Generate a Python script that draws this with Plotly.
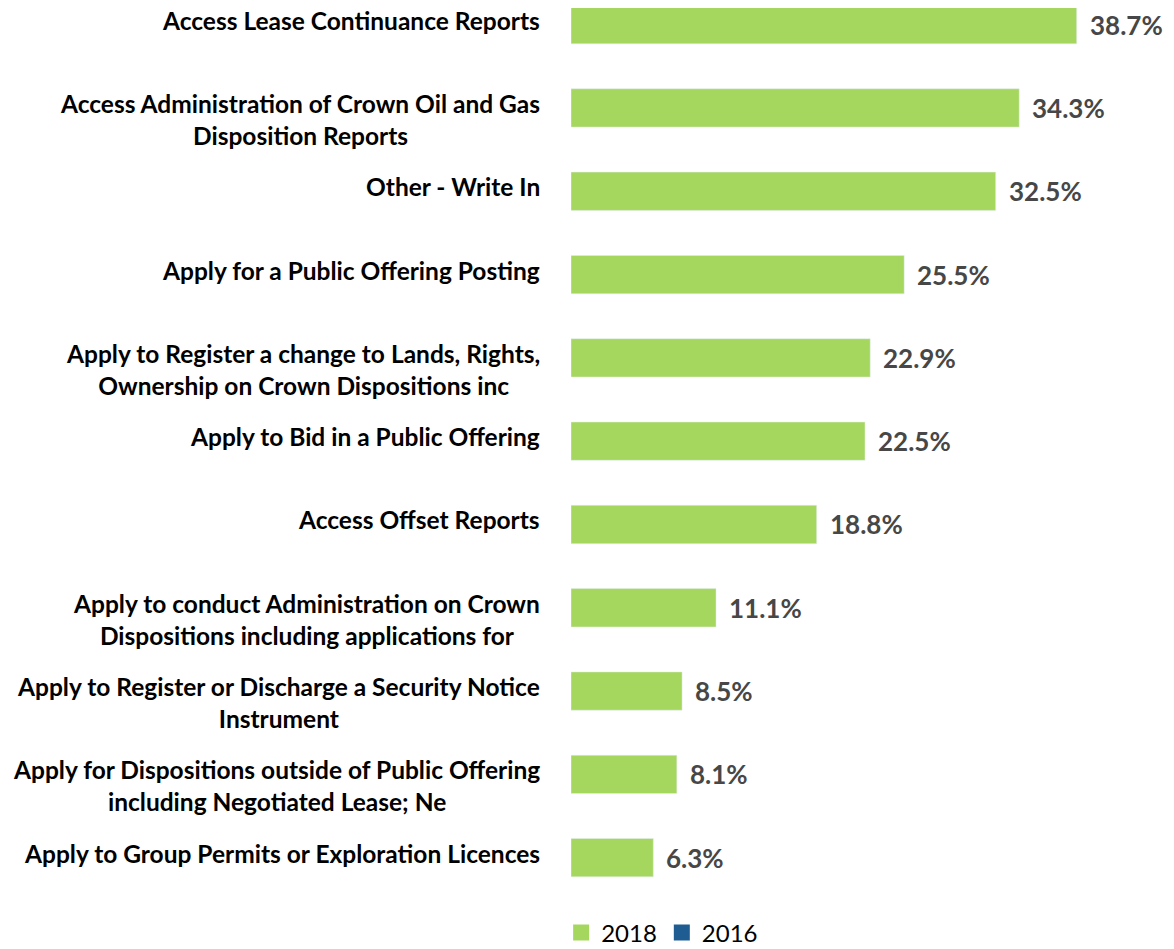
import plotly.graph_objects as go

categories = [
    "Access Lease Continuance Reports",
    "Access Administration of Crown Oil and Gas<br>Disposition Reports",
    "Other - Write In",
    "Apply for a Public Offering Posting",
    "Apply to Register a change to Lands, Rights,<br>Ownership on Crown Dispositions inc",
    "Apply to Bid in a Public Offering",
    "Access Offset Reports",
    "Apply to conduct Administration on Crown<br>Dispositions including applications for",
    "Apply to Register or Discharge a Security Notice<br>Instrument",
    "Apply for Dispositions outside of Public Offering<br>including Negotiated Lease; Ne",
    "Apply to Group Permits or Exploration Licences",
]
values_2018 = [38.7, 34.3, 32.5, 25.5, 22.9, 22.5, 18.8, 11.1, 8.5, 8.1, 6.3]
values_2016 = [None] * len(categories)
series_names = ["2018", "2016"]

GREEN = "#a5d75f"
BLUE = "#1f5c91"
FONT = "Lato"

ypos = list(range(len(categories)))

fig = go.Figure()
fig.add_trace(go.Bar(
    name=series_names[0], y=ypos, x=values_2018, orientation="h",
    marker=dict(color=GREEN), width=0.46, showlegend=False,
))
fig.add_trace(go.Bar(
    name=series_names[1], y=ypos, x=values_2016, orientation="h",
    marker=dict(color=BLUE), width=0.46, showlegend=False,
))
# legend-only entries with square swatches
for name, col in zip(series_names, [GREEN, BLUE]):
    fig.add_trace(go.Scatter(
        name=name, x=[None], y=[None], mode="markers",
        marker=dict(symbol="square", size=16, color=col),
    ))

for i, lab in enumerate(categories):
    fig.add_annotation(
        x=0, xref="paper", y=i, yref="y", xanchor="right", yanchor="top",
        xshift=-29, yshift=21, text=lab, showarrow=False, align="center",
        font=dict(family=FONT, size=24.5, color="#000000", weight="bold"),
    )

for i, v in enumerate(values_2018):
    fig.add_annotation(
        x=v, xref="x", y=i, yref="y", xanchor="left", yanchor="middle",
        xshift=11, yshift=0, text=f"{v:.1f}%", showarrow=False,
        font=dict(family=FONT, size=26, color="#474747", weight="bold"),
    )

fig.update_layout(
    width=1166, height=941,
    margin=dict(l=563, r=15, t=0, b=49),
    plot_bgcolor="white", paper_bgcolor="white",
    barmode="overlay",
    showlegend=True,
    legend=dict(
        orientation="h", xref="container", yref="container",
        x=0.561, xanchor="center", y=0.017, yanchor="middle",
        font=dict(family=FONT, size=24, color="#000000"),
        itemwidth=30, tracegroupgap=0,
    ),
    xaxis=dict(range=[0, 45], visible=False),
    yaxis=dict(range=[10.508, -0.2], visible=False),
)

fig.write_html("out.html")
